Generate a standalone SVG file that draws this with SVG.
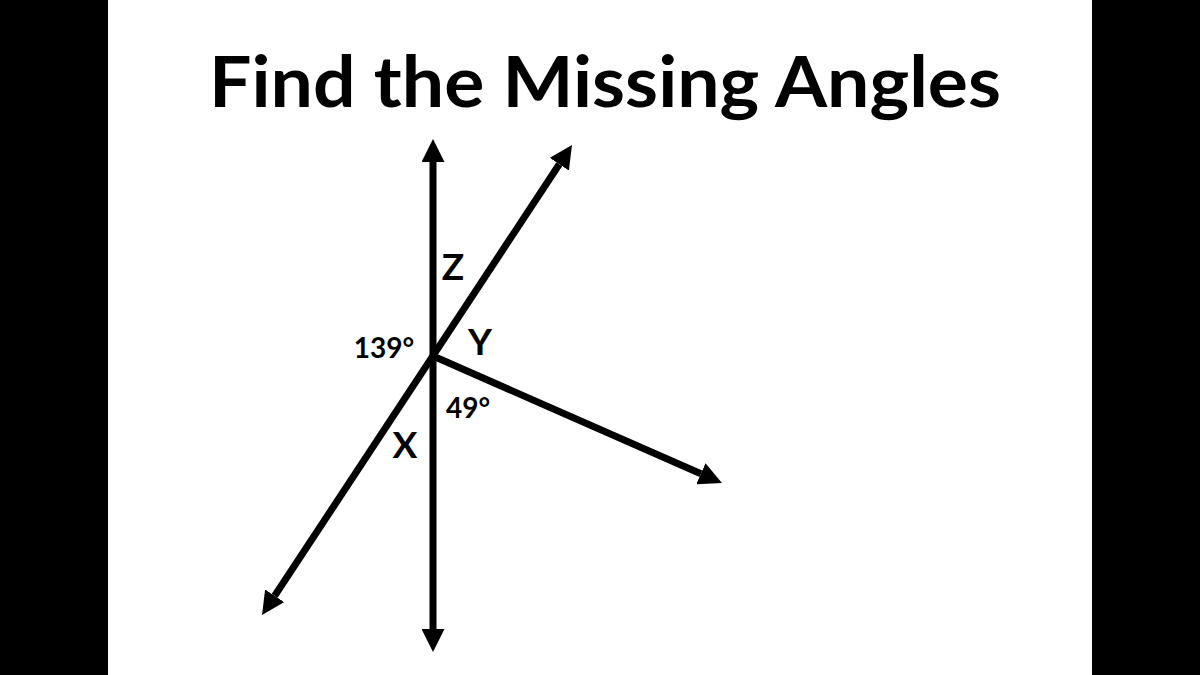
<svg xmlns="http://www.w3.org/2000/svg" width="1200" height="675" viewBox="0 0 1200 675">
  <style>
    .ray { stroke: #000; stroke-width: 7; fill: none; marker-end: url(#ah); }
    .both { marker-start: url(#ah); }
    .lbl { font-family: Lato, "Open Sans", "Liberation Sans", sans-serif; font-weight: bold; fill: #000; }
    .let { font-size: 37px; }
    .num { font-size: 28px; }
  </style>
  <defs>
    <marker id="ah" markerUnits="userSpaceOnUse" markerWidth="24" markerHeight="23" refX="0" refY="11.5" orient="auto-start-reverse" viewBox="0 0 24 23">
      <path d="M0,0 L23,11.5 L0,23 Z" fill="#000"/>
    </marker>
  </defs>
  <rect x="0" y="0" width="1200" height="675" fill="#fff"/>
  <rect x="0" y="0" width="108" height="675" fill="#000"/>
  <rect x="1092" y="0" width="108" height="675" fill="#000"/>
  <g id="title">
    <text class="lbl" x="605" y="107" font-size="70" text-anchor="middle" textLength="792" lengthAdjust="spacingAndGlyphs">Find the Missing Angles</text>
  </g>
  <g id="connectors">
    <line class="ray both" x1="433" y1="162" x2="433" y2="629"/>
    <line class="ray both" x1="274.7" y1="595.8" x2="559.3" y2="164.2"/>
    <line class="ray" x1="433" y1="356" x2="700.9" y2="473.7"/>
  </g>
  <g id="label-z"><text class="lbl let" x="453" y="280" text-anchor="middle">Z</text></g>
  <g id="label-y"><text class="lbl let" x="480" y="355" text-anchor="middle">Y</text></g>
  <g id="label-x"><text class="lbl let" x="405" y="458" text-anchor="middle">X</text></g>
  <g id="label-139"><text class="lbl num" x="384" y="358" text-anchor="middle">139°</text></g>
  <g id="label-49"><text class="lbl num" x="468" y="418" text-anchor="middle">49°</text></g>
</svg>
